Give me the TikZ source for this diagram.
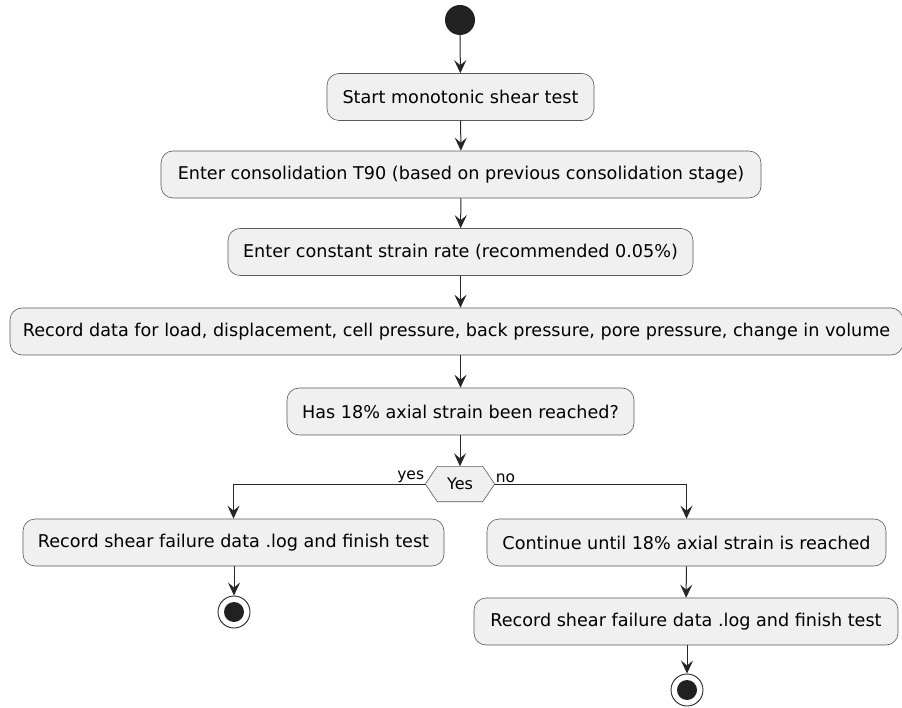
\documentclass[tikz,border=0pt]{standalone}
\usepackage{fontspec}
\setmainfont{DejaVu Sans}
\usetikzlibrary{arrows.meta}
\begin{document}
\begin{tikzpicture}[x=1pt,y=-1pt,
  act/.style={draw=black!65, fill=black!6, rounded corners=12pt, minimum height=47pt, inner sep=0pt, font=\fontsize{17.6}{20}\selectfont, line width=0.6pt},
  arr/.style={-{Stealth[length=13pt,width=12pt,inset=5pt]}, line width=1pt, draw=black!85},
  lbl/.style={font=\fontsize{15.5}{18}\selectfont, inner sep=1pt},
  startdot/.style={circle, fill=black!87, minimum size=30pt, inner sep=0pt},
  endring/.style={circle, draw=black!85, line width=0.9pt, fill=white, minimum size=32pt, inner sep=0pt},
  enddot/.style={circle, fill=black!87, minimum size=20pt, inner sep=0pt}]
\useasboundingbox (0,0) rectangle (902,708);
\node[startdot] (start) at (460,20) {};
\node[act, minimum width=267pt] (b1) at (460.5,97) {Start monotonic shear test};
\node[act, minimum width=600pt] (b2) at (461,174.5) {Enter consolidation T90 (based on previous consolidation stage)};
\node[act, minimum width=465pt] (b3) at (460.5,252) {Enter constant strain rate (recommended 0.05\%)};
\node[act, minimum width=893pt] (b4) at (456.5,331.5) {Record data for load, displacement, cell pressure, back pressure, pore pressure, change in volume};
\node[act, minimum width=347pt] (b5) at (460.5,411.5) {Has 18\% axial strain been reached?};
\node[minimum width=69pt, minimum height=35pt, inner sep=0pt] (d) at (460,484) {};
\draw[draw=black!65, fill=black!6, line width=0.6pt] (d.west) -- ([xshift=12pt]d.north west) -- ([xshift=-12pt]d.north east) -- (d.east) -- ([xshift=-12pt]d.south east) -- ([xshift=12pt]d.south west) -- cycle;
\node[font=\fontsize{16}{18}\selectfont] at (d) {Yes};
\node[act, minimum width=421pt] (l1) at (233.5,542.5) {Record shear failure data .log and finish test};
\node[act, minimum width=399pt] (r1) at (686.5,542.5) {Continue until 18\% axial strain is reached};
\node[act, minimum width=424pt] (r2) at (686,621.5) {Record shear failure data .log and finish test};
\node[endring] (e1) at (234,612) {};
\node[enddot] at (e1) {};
\node[endring] (e2) at (687,690) {};
\node[enddot] at (e2) {};
\draw[arr] (start) -- (b1);
\draw[arr] (b1) -- (b2);
\draw[arr] (b2) -- (b3);
\draw[arr] (b3.south) -- (b3.south |- b4.north);
\draw[arr] (b4.south -| b5) -- (b5.north);
\draw[arr] (b5.south -| d) -- (d.north);
\draw[arr] (d.west) -| (l1.north);
\draw[arr] (d.east) -| (r1.north);
\draw[arr] (l1.south -| e1) -- (e1);
\draw[arr] (r1) -- (r2);
\draw[arr] (r2.south -| e2) -- (e2);
\node[lbl, anchor=south east] at (d.west) {yes};
\node[lbl, anchor=south west] at (d.east) {no};
\end{tikzpicture}
\end{document}
